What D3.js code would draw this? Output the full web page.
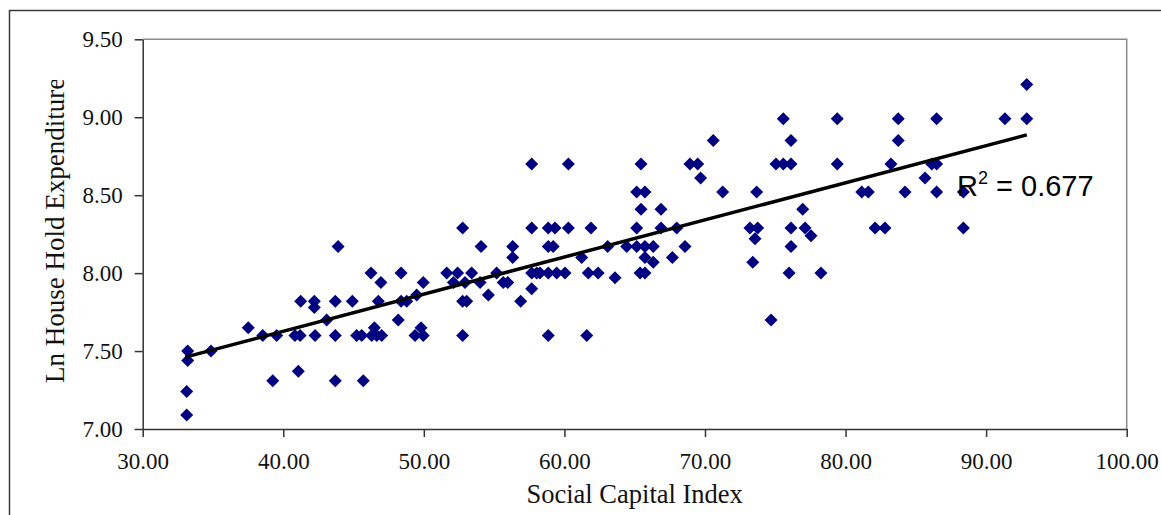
<!DOCTYPE html>
<html><head><meta charset="utf-8">
<script src="https://cdn.jsdelivr.net/npm/d3@7"></script>
<style>html,body{margin:0;padding:0;background:#fff;overflow:hidden}</style>
</head><body>
<svg id="chart" width="1161" height="515"></svg>
<script>
// ---- data ----
const socialCapital = [33.13,33.13,33.2,33.2,34.86,37.51,38.54,39.25,39.53,40.83,41.2,41.07,41.24,42.21,42.21,42.26,43.09,43.9,43.7,43.7,43.7,44.91,45.22,45.58,45.69,46.24,46.48,46.29,46.65,47.0,46.95,46.76,48.18,48.38,48.38,48.78,49.37,49.8,49.96,49.49,49.96,51.63,52.1,52.4,52.76,52.76,53.05,52.76,52.93,53.4,54.0,54.07,54.59,55.18,55.65,55.97,56.32,56.32,56.89,57.67,57.67,57.67,57.67,60.28,58.85,59.33,60.28,61.89,58.85,59.2,61.23,58.03,58.26,58.85,59.45,60.04,58.85,61.59,61.7,62.4,63.08,63.6,64.43,65.14,65.73,66.32,65.14,65.14,65.73,65.45,65.45,65.73,66.32,65.38,65.73,66.87,66.87,67.99,67.68,68.58,68.93,69.48,69.69,70.59,71.26,73.4,73.2,73.75,73.56,73.68,74.7,75.05,75.57,76.12,75.57,76.12,76.12,76.12,75.98,76.95,77.12,77.54,78.25,79.41,79.41,81.15,81.62,82.1,82.8,83.23,83.75,83.75,84.23,85.65,86.13,86.48,86.48,86.48,92.89,91.34,92.89,88.38,88.38];
const lnExpenditure = [7.09,7.24,7.44,7.50,7.50,7.65,7.60,7.31,7.60,7.60,7.60,7.37,7.82,7.82,7.78,7.60,7.70,8.17,7.82,7.60,7.31,7.82,7.60,7.60,7.31,8.00,7.65,7.60,7.60,7.60,7.94,7.82,7.70,8.00,7.82,7.82,7.60,7.65,7.60,7.86,7.94,8.00,7.94,8.00,8.29,7.82,7.82,7.60,7.94,8.00,7.94,8.17,7.86,8.00,7.94,7.94,8.17,8.10,7.82,8.70,8.29,8.00,7.90,8.70,8.29,8.29,8.29,8.29,8.17,8.17,8.10,8.00,8.00,8.00,8.00,8.00,7.60,7.60,8.00,8.00,8.17,7.97,8.17,8.17,8.17,8.17,8.29,8.52,8.52,8.70,8.41,8.10,8.07,8.00,8.00,8.41,8.29,8.29,8.10,8.17,8.70,8.70,8.61,8.85,8.52,8.07,8.29,8.29,8.22,8.52,7.70,8.70,8.70,8.70,8.99,8.85,8.29,8.17,8.00,8.41,8.29,8.24,8.00,8.99,8.70,8.52,8.52,8.29,8.29,8.70,8.99,8.85,8.52,8.61,8.70,8.70,8.99,8.52,9.21,8.99,8.99,8.52,8.29];
const xTicks = [30,40,50,60,70,80,90,100];
const yTicks = [7.0,7.5,8.0,8.5,9.0,9.5];
const trendSlope = [0.02382];
const trendIntercept = [6.674];
const rSquared = ["0.677"];
const xTitle = ["Social Capital Index"];
const yTitle = ["Ln House Hold  Expenditure"];

// ---- layout ----
const svg = d3.select("#chart");
const L = 142.7, R = 1126.7, T = 39.3, B = 429;
const x = d3.scaleLinear().domain([30,100]).range([L,R]);
const y = d3.scaleLinear().domain([7,9.5]).range([B,T]);
const serif = "'Liberation Serif','Times New Roman',serif";

// outer chart border
svg.append("path").attr("d", `M9.5,520 L9.5,10.5 L1170,10.5`)
  .attr("fill","none").attr("stroke","#3a3a3a").attr("stroke-width",1.5);

// plot frame top/right
svg.append("path").attr("d",`M${L},${T} L${R},${T} L${R},${B}`)
  .attr("fill","none").attr("stroke","#8a8a8a").attr("stroke-width",1.5);

// axes
const xAxis = d3.axisBottom(x).tickValues(xTicks).tickFormat(d3.format(".2f")).tickSizeInner(8).tickSizeOuter(0).tickPadding(16);
const yAxis = d3.axisLeft(y).tickValues(yTicks).tickFormat(d3.format(".2f")).tickSizeInner(8).tickSizeOuter(0).tickPadding(12);
const gx = svg.append("g").attr("transform",`translate(0,${B})`).call(xAxis);
const gy = svg.append("g").attr("transform",`translate(${L},0)`).call(yAxis);
[gx,gy].forEach(g=>{
  g.selectAll("path,line").attr("stroke","#333").attr("stroke-width",1.5);
  g.selectAll("text").attr("font-family",serif).attr("font-size",23).attr("fill","#111");
});

// points
const pts = socialCapital.map((v,i)=>({x:v,y:lnExpenditure[i]}));
const diamondType = {draw(ctx,size){const r=Math.sqrt(size)/2;ctx.moveTo(0,-r);ctx.lineTo(r,0);ctx.lineTo(0,r);ctx.lineTo(-r,0);ctx.closePath();}};
svg.append("g").selectAll("path").data(pts).join("path")
  .attr("transform",d=>`translate(${x(d.x)},${y(d.y)})`)
  .attr("d", d3.symbol().type(diamondType).size(169))
  .attr("fill","#000080");

// trendline
const x0 = d3.min(socialCapital)-0.1, x1 = d3.max(socialCapital);
svg.append("line")
  .attr("x1",x(x0)).attr("y1",y(trendIntercept[0]+trendSlope[0]*x0))
  .attr("x2",x(x1)).attr("y2",y(trendIntercept[0]+trendSlope[0]*x1))
  .attr("stroke","#000").attr("stroke-width",3.5);

// R^2 label
const rt = svg.append("text").attr("x",957).attr("y",196)
  .attr("font-family","'Liberation Sans',Arial,sans-serif").attr("font-size",29).attr("fill","#000");
rt.append("tspan").text("R");
rt.append("tspan").attr("dy",-12).attr("font-size",18).text("2");
rt.append("tspan").attr("dy",12).text(" = " + rSquared[0]);

// axis titles
svg.append("text").attr("x",(L+R)/2).attr("y",503).attr("text-anchor","middle")
  .attr("font-family",serif).attr("font-size",26.5).attr("fill","#111")
  .text(xTitle[0]);
svg.append("clipPath").attr("id","yclip").append("rect").attr("x",0).attr("y",80).attr("width",140).attr("height",420);
svg.append("g").attr("clip-path","url(#yclip)").append("text")
  .attr("transform",`translate(64,383) rotate(-90)`).attr("text-anchor","start")
  .attr("font-family",serif).attr("font-size",27).attr("fill","#111")
  .text(yTitle[0]);
</script>
</body></html>
